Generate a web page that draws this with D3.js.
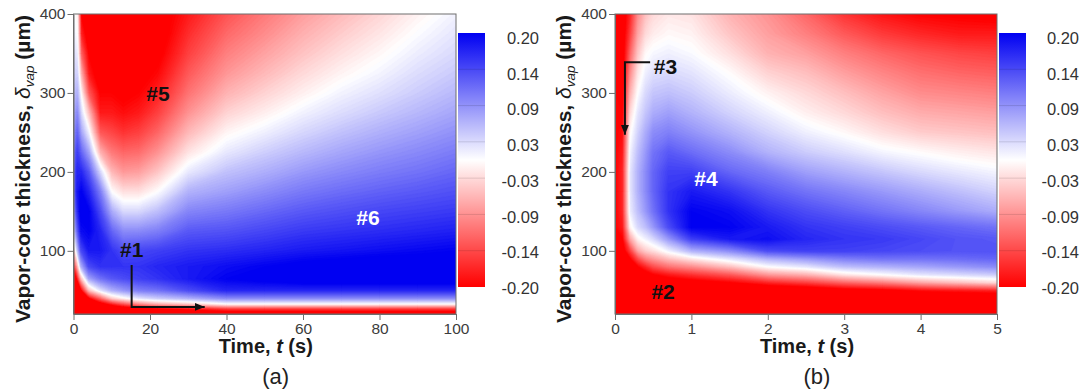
<!DOCTYPE html>
<html>
<head>
<meta charset="utf-8">
<script src="https://cdn.jsdelivr.net/npm/d3@7"></script>
<style>
  body { margin: 0; background: #fff; }
  svg { display: block; font-family: "Liberation Sans", Arial, sans-serif; }
</style>
</head>
<body>
<svg id="chart" width="1090" height="389"></svg>
<script>
// ---------------- data ----------------
// panel (a): time nodes (s), thickness nodes (um), one row of values per time node
const timesA = [0, 1, 2, 4, 7, 10, 13, 17, 22, 30, 40, 50, 60, 70, 80, 90, 100];
const thickA = [20, 27, 33, 40, 50, 65, 80, 100, 125, 150, 175, 200, 225, 250, 275, 300, 325, 350, 375, 400];
const fieldA = [
  [-0.3, -0.3, -0.3, -0.3, -0.3, -0.25, -0.18, -0.06, 0.03, 0.08, 0.11, 0.12, 0.11, 0.09, 0.07, 0.05, 0.035, 0.025, 0.012, 0.004],
  [-0.3, -0.3, -0.3, -0.3, -0.28, -0.18, -0.07, 0.04, 0.12, 0.16, 0.18, 0.17, 0.15, 0.12, 0.09, 0.06, 0.035, 0.015, 0.0, -0.01],
  [-0.3, -0.3, -0.3, -0.29, -0.2, -0.05, 0.06, 0.14, 0.19, 0.21, 0.2, 0.17, 0.12, 0.07, 0.03, -0.005, -0.06, -0.12, -0.17, -0.2],
  [-0.3, -0.3, -0.27, -0.2, -0.05, 0.07, 0.14, 0.18, 0.2, 0.2, 0.17, 0.13, 0.07, 0.01, -0.05, -0.13, -0.18, -0.2, -0.22, -0.22],
  [-0.3, -0.28, -0.22, -0.12, 0.02, 0.11, 0.16, 0.18, 0.17, 0.14, 0.1, 0.03, -0.06, -0.13, -0.18, -0.2, -0.22, -0.22, -0.22, -0.22],
  [-0.3, -0.26, -0.17, -0.04, 0.06, 0.13, 0.16, 0.16, 0.12, 0.065, 0.0, -0.055, -0.105, -0.145, -0.18, -0.2, -0.22, -0.22, -0.22, -0.22],
  [-0.28, -0.24, -0.13, -0.01, 0.08, 0.14, 0.16, 0.14, 0.09, 0.03, -0.025, -0.08, -0.12, -0.16, -0.19, -0.21, -0.22, -0.22, -0.22, -0.22],
  [-0.28, -0.22, -0.09, 0.02, 0.1, 0.15, 0.16, 0.145, 0.09, 0.03, -0.025, -0.075, -0.115, -0.15, -0.18, -0.2, -0.215, -0.22, -0.22, -0.22],
  [-0.27, -0.2, -0.06, 0.04, 0.11, 0.16, 0.17, 0.15, 0.1, 0.05, 0.0, -0.045, -0.085, -0.12, -0.15, -0.175, -0.195, -0.21, -0.22, -0.22],
  [-0.25, -0.18, -0.04, 0.06, 0.14, 0.18, 0.18, 0.16, 0.13, 0.095, 0.06, 0.017, -0.022, -0.055, -0.085, -0.11, -0.13, -0.15, -0.165, -0.18],
  [-0.25, -0.15, 0.0, 0.09, 0.17, 0.2, 0.19, 0.165, 0.135, 0.105, 0.075, 0.048, 0.018, -0.008, -0.035, -0.06, -0.082, -0.1, -0.118, -0.135],
  [-0.25, -0.15, 0.0, 0.09, 0.17, 0.21, 0.2, 0.172, 0.145, 0.118, 0.09, 0.063, 0.038, 0.012, -0.013, -0.035, -0.055, -0.073, -0.09, -0.105],
  [-0.25, -0.15, 0.0, 0.09, 0.17, 0.22, 0.21, 0.18, 0.155, 0.13, 0.105, 0.08, 0.055, 0.032, 0.01, -0.012, -0.03, -0.047, -0.062, -0.077],
  [-0.25, -0.15, 0.0, 0.09, 0.17, 0.22, 0.215, 0.185, 0.16, 0.138, 0.115, 0.092, 0.07, 0.048, 0.027, 0.009, -0.009, -0.025, -0.04, -0.054],
  [-0.25, -0.15, 0.0, 0.09, 0.17, 0.22, 0.22, 0.19, 0.165, 0.145, 0.123, 0.102, 0.082, 0.062, 0.042, 0.024, 0.008, -0.006, -0.02, -0.033],
  [-0.25, -0.15, 0.0, 0.09, 0.17, 0.22, 0.22, 0.195, 0.17, 0.15, 0.13, 0.11, 0.092, 0.074, 0.056, 0.04, 0.027, 0.014, 0.002, -0.01],
  [-0.25, -0.15, 0.0, 0.09, 0.17, 0.22, 0.22, 0.2, 0.175, 0.155, 0.137, 0.12, 0.103, 0.086, 0.07, 0.055, 0.042, 0.03, 0.02, 0.01]
];

// panel (b)
const timesB = [0, 0.1, 0.2, 0.3, 0.4, 0.5, 0.7, 1.0, 1.5, 2.0, 2.5, 3.0, 3.5, 4.0, 4.5, 5.0];
const thickB = [20, 30, 40, 50, 60, 70, 80, 90, 100, 115, 130, 150, 175, 200, 225, 250, 275, 300, 325, 350, 375, 400];
const fieldB = [
  [-0.22, -0.22, -0.22, -0.22, -0.22, -0.22, -0.22, -0.22, -0.22, -0.21, -0.2, -0.2, -0.2, -0.2, -0.2, -0.2, -0.2, -0.2, -0.2, -0.2, -0.2, -0.2],
  [-0.25, -0.25, -0.25, -0.25, -0.25, -0.25, -0.25, -0.24, -0.22, -0.2, -0.18, -0.17, -0.17, -0.17, -0.18, -0.19, -0.2, -0.21, -0.22, -0.22, -0.22, -0.22],
  [-0.25, -0.25, -0.25, -0.25, -0.25, -0.25, -0.24, -0.2, -0.15, -0.07, -0.01, 0.015, 0.02, 0.02, 0.01, -0.005, -0.03, -0.06, -0.09, -0.12, -0.15, -0.17],
  [-0.25, -0.25, -0.25, -0.25, -0.25, -0.24, -0.2, -0.14, -0.07, -0.01, 0.03, 0.05, 0.06, 0.06, 0.05, 0.035, 0.02, 0.0, -0.02, -0.045, -0.07, -0.09],
  [-0.25, -0.25, -0.25, -0.25, -0.25, -0.22, -0.17, -0.1, -0.04, 0.01, 0.05, 0.08, 0.09, 0.09, 0.08, 0.065, 0.045, 0.03, 0.012, -0.005, -0.03, -0.05],
  [-0.25, -0.25, -0.25, -0.25, -0.24, -0.2, -0.14, -0.08, -0.025, 0.03, 0.08, 0.11, 0.12, 0.12, 0.11, 0.09, 0.065, 0.045, 0.025, 0.006, -0.015, -0.03],
  [-0.25, -0.25, -0.25, -0.25, -0.23, -0.18, -0.11, -0.05, 0.01, 0.08, 0.14, 0.16, 0.16, 0.15, 0.13, 0.1, 0.075, 0.05, 0.03, 0.012, -0.005, -0.018],
  [-0.25, -0.25, -0.25, -0.25, -0.22, -0.16, -0.09, -0.02, 0.06, 0.15, 0.2, 0.2, 0.18, 0.15, 0.115, 0.085, 0.06, 0.04, 0.022, 0.004, -0.01, -0.022],
  [-0.25, -0.25, -0.25, -0.25, -0.2, -0.13, -0.05, 0.02, 0.09, 0.18, 0.2, 0.19, 0.16, 0.12, 0.09, 0.06, 0.035, 0.015, -0.002, -0.025, -0.045, -0.06],
  [-0.25, -0.25, -0.25, -0.25, -0.17, -0.08, 0.0, 0.06, 0.14, 0.19, 0.18, 0.16, 0.13, 0.1, 0.06, 0.035, 0.012, -0.01, -0.035, -0.06, -0.075, -0.085],
  [-0.25, -0.25, -0.25, -0.24, -0.15, -0.06, 0.02, 0.08, 0.15, 0.17, 0.16, 0.14, 0.11, 0.075, 0.04, 0.012, -0.012, -0.03, -0.05, -0.075, -0.1, -0.12],
  [-0.25, -0.25, -0.25, -0.22, -0.12, -0.02, 0.05, 0.1, 0.15, 0.16, 0.15, 0.125, 0.095, 0.06, 0.025, -0.005, -0.03, -0.05, -0.075, -0.1, -0.13, -0.16],
  [-0.25, -0.25, -0.25, -0.21, -0.1, 0.0, 0.06, 0.11, 0.145, 0.155, 0.14, 0.11, 0.08, 0.045, 0.008, -0.025, -0.05, -0.072, -0.095, -0.12, -0.155, -0.185],
  [-0.25, -0.25, -0.25, -0.19, -0.07, 0.02, 0.07, 0.11, 0.14, 0.145, 0.13, 0.095, 0.065, 0.03, -0.003, -0.04, -0.065, -0.09, -0.112, -0.135, -0.17, -0.2],
  [-0.25, -0.25, -0.25, -0.18, -0.05, 0.03, 0.08, 0.115, 0.135, 0.135, 0.12, 0.08, 0.05, 0.018, -0.013, -0.045, -0.07, -0.095, -0.12, -0.145, -0.18, -0.205],
  [-0.25, -0.25, -0.25, -0.17, -0.03, 0.04, 0.09, 0.12, 0.135, 0.13, 0.11, 0.065, 0.035, 0.008, -0.02, -0.05, -0.075, -0.1, -0.125, -0.15, -0.18, -0.21]
];

const xTicksA = [0, 20, 40, 60, 80, 100];
const xTicksB = [0, 1, 2, 3, 4, 5];
const yTicks = [100, 200, 300, 400];
const cbLabels = ["0.20", "0.14", "0.09", "0.03", "-0.03", "-0.09", "-0.14", "-0.20"];

// annotations: [text, t, delta]
const notesA = [["#5", 22.1, 300], ["#6", 77, 142], ["#1", 15.2, 102]];
const notesB = [["#3", 0.66, 333], ["#4", 1.19, 192], ["#2", 0.63, 49]];
// arrows as [t, delta] polylines
const arrowA = [[15.2, 82], [15.2, 29], [34.3, 29]];
const arrowB = [[0.46, 339], [0.13, 339], [0.13, 247]];

// ---------------- drawing ----------------
const svg = d3.select("#chart");
const color = d3.scaleLinear().domain([-0.2, 0, 0.2])
    .range(["#ff0000", "#ffffff", "#0000f2"]).clamp(true);

const defs = svg.append("defs");
defs.append("marker")
    .attr("id", "head")
    .attr("viewBox", "0 0 10 8")
    .attr("refX", 10).attr("refY", 4)
    .attr("markerWidth", 10).attr("markerHeight", 8)
    .attr("markerUnits", "userSpaceOnUse")
    .attr("orient", "auto")
  .append("path").attr("d", "M0,0L10,4L0,8Z").attr("fill", "#111");

const grad = defs.append("linearGradient").attr("id", "cbgrad")
    .attr("x1", 0).attr("x2", 0).attr("y1", 0).attr("y2", 1);
d3.range(0, 1.0001, 0.05).forEach(f => {
    grad.append("stop").attr("offset", f).attr("stop-color", color(0.2 - 0.4 * f));
});

const panels = [
    { key: "a", times: timesA, thick: thickA, field: fieldA, xDomain: [0, 100], xTicks: xTicksA,
      left: 73.5, right: 456, cbX: 458, labX: 539, notes: notesA, arrow: arrowA,
      noteColor: ["#111", "#fff", "#111"], tag: "(a)" },
    { key: "b", times: timesB, thick: thickB, field: fieldB, xDomain: [0, 5], xTicks: xTicksB,
      left: 615, right: 997, cbX: 999, labX: 1079, notes: notesB, arrow: arrowB,
      noteColor: ["#111", "#fff", "#111"], tag: "(b)" }
];

const plotTop = 14, plotBottom = 314;

panels.forEach(p => {
    const x = d3.scaleLinear().domain(p.xDomain).range([p.left, p.right]);
    const y = d3.scaleLinear().domain([20, 400]).range([plotBottom, plotTop]);
    const g = svg.append("g");

    // grid -> flat array for d3.contours (row = thickness index)
    const nx = p.times.length, ny = p.thick.length;
    const values = new Array(nx * ny);
    p.field.forEach((col, i) => col.forEach((v, j) => { values[j * nx + i] = v; }));

    const ti = d3.scaleLinear().domain(d3.range(nx)).range(p.times).clamp(true);
    const di = d3.scaleLinear().domain(d3.range(ny)).range(p.thick).clamp(true);
    const proj = d3.geoTransform({
        point(px, py) { this.stream.point(x(ti(px - 0.5)), y(di(py - 0.5))); }
    });
    const path = d3.geoPath(proj);

    defs.append("clipPath").attr("id", "clip" + p.key)
      .append("rect").attr("x", p.left).attr("y", plotTop)
        .attr("width", p.right - p.left).attr("height", plotBottom - plotTop);

    const map = g.append("g").attr("clip-path", `url(#clip${p.key})`);
    map.append("rect").attr("x", p.left).attr("y", plotTop)
        .attr("width", p.right - p.left).attr("height", plotBottom - plotTop)
        .attr("fill", color(-0.2));

    const step = 0.004;
    const levels = d3.range(-0.2, 0.2 + 1e-9, step);
    const contours = d3.contours().size([nx, ny]).thresholds(levels)(values);
    map.selectAll("path.band").data(contours).join("path")
        .attr("class", "band")
        .attr("d", path)
        .attr("fill", d => color(d.value + step / 2))
        .attr("stroke", d => color(d.value + step / 2))
        .attr("stroke-width", 0.3);

    // frame
    g.append("rect").attr("x", p.left).attr("y", plotTop)
        .attr("width", p.right - p.left).attr("height", plotBottom - plotTop)
        .attr("fill", "none").attr("stroke", "#6e6e6e").attr("stroke-width", 1);

    // axes
    const ax = g.append("g").attr("transform", `translate(0,${plotBottom})`)
        .call(d3.axisBottom(x).tickValues(p.xTicks).tickFormat(d3.format("d"))
            .tickSize(6).tickSizeOuter(0).tickPadding(3));
    const ay = g.append("g").attr("transform", `translate(${p.left},0)`)
        .call(d3.axisLeft(y).tickValues(yTicks).tickSize(6).tickSizeOuter(0).tickPadding(2));
    [ax, ay].forEach(a => {
        a.select(".domain").attr("stroke", "#6e6e6e");
        a.selectAll(".tick line").attr("stroke", "#6e6e6e");
        a.selectAll(".tick text").attr("font-size", "15.5px").attr("fill", "#3c3c3c")
            .attr("font-family", "Liberation Sans, Arial, sans-serif");
    });

    // axis titles
    const cx = (p.left + p.right) / 2;
    const xt = g.append("text").attr("x", cx + 1).attr("y", 353)
        .attr("text-anchor", "middle").attr("font-size", "20px").attr("font-weight", "bold")
        .attr("fill", "#1a1a1a");
    xt.append("tspan").text("Time, ");
    xt.append("tspan").attr("font-style", "italic").text("t");
    xt.append("tspan").text(" (s)");

    const yt = g.append("text")
        .attr("transform", `translate(${p.left - 44},${(plotTop + plotBottom) / 2 + 5}) rotate(-90)`)
        .attr("text-anchor", "middle").attr("font-size", "21px").attr("font-weight", "bold")
        .attr("fill", "#1a1a1a");
    yt.append("tspan").text("Vapor-core thickness, ");
    yt.append("tspan").attr("font-style", "italic").attr("font-weight", "normal").text("δ");
    yt.append("tspan").attr("font-style", "italic").attr("font-weight", "normal")
        .attr("font-size", "13.5px").attr("dy", 4).text("vap");
    yt.append("tspan").attr("dy", -4).text(" (µm)");

    g.append("text").attr("x", cx + 11).attr("y", 384)
        .attr("text-anchor", "middle").attr("font-size", "22px").attr("fill", "#222")
        .text(p.tag);

    // annotations
    g.selectAll("text.note").data(p.notes).join("text")
        .attr("class", "note")
        .attr("x", d => x(d[1])).attr("y", d => y(d[2]))
        .attr("dy", "0.36em").attr("text-anchor", "middle")
        .attr("font-size", "21px").attr("font-weight", "bold")
        .attr("fill", (d, i) => p.noteColor[i])
        .text(d => d[0]);

    g.append("path")
        .attr("d", d3.line().x(d => x(d[0])).y(d => y(d[1]))(p.arrow))
        .attr("fill", "none").attr("stroke", "#111").attr("stroke-width", 2)
        .attr("marker-end", "url(#head)");

    // colour bar
    const cbTop = 33, cbBot = 287, cbW = 27;
    const cb = g.append("g");
    cb.append("rect").attr("x", p.cbX).attr("y", cbTop).attr("width", cbW)
        .attr("height", cbBot - cbTop).attr("fill", "url(#cbgrad)");
    const ly = d3.scalePoint().domain(cbLabels).range([38, 288]);
    const sep = d3.scalePoint().domain(cbLabels).range([cbTop, cbBot]);
    cb.selectAll("line").data(cbLabels.slice(1, -1)).join("line")
        .attr("x1", p.cbX).attr("x2", p.cbX + cbW)
        .attr("y1", d => sep(d)).attr("y2", d => sep(d))
        .attr("stroke", "#000").attr("stroke-opacity", 0.12);
    cb.selectAll("text").data(cbLabels).join("text")
        .attr("x", p.labX).attr("y", d => ly(d)).attr("dy", "0.36em")
        .attr("text-anchor", "end").attr("font-size", "16.5px").attr("fill", "#333")
        .text(d => d);
});
</script>
</body>
</html>
